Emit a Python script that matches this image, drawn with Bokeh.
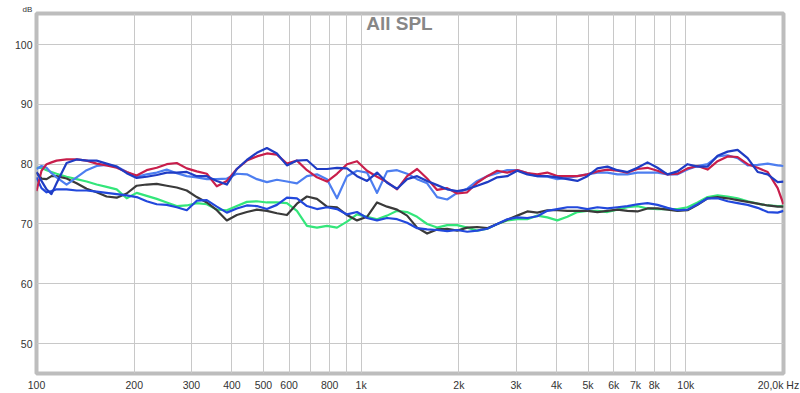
from bokeh.plotting import figure
from bokeh.models import FixedTicker, Range1d, Label, Title
from bokeh.embed import file_html
from bokeh.resources import INLINE

# frequency points (Hz)
freq = [100, 103.6, 107.4, 111.2, 115.3, 123.8, 132.9, 142.7, 153.2, 164.4,
        176.6, 189.6, 203.5, 218.5, 234.6, 251.9, 270.4, 290.3, 311.7, 334.6,
        359.3, 385.7, 414.1, 444.6, 477.3, 512.5, 550.2, 590.7, 634.2, 680.9,
        731, 784.8, 842.6, 904.6, 971.2, 1042.7, 1119.5, 1201.9, 1290.4, 1385.4,
        1487.4, 1596.9, 1714.5, 1840.7, 1976.2, 2121.7, 2277.9, 2445.6, 2625.7, 2819,
        3026.6, 3249.4, 3488.6, 3745.5, 4021.2, 4317.3, 4635.2, 4976.4, 5342.8, 5736.2,
        6158.6, 6612, 7098.8, 7621.5, 8182.6, 8785, 9431.9, 10126, 10872, 11672,
        12531, 13454, 14444, 15508, 16649, 17875, 19191, 20000]

red = [75.5, 78.9, 80.0, 80.3, 80.6, 80.8, 80.8, 80.6, 80.1, 79.8,
       79.4, 78.7, 78.1, 79.0, 79.4, 80.0, 80.2, 79.3, 78.8, 78.4,
       76.3, 77.2, 79.2, 80.6, 81.3, 81.8, 81.6, 80.1, 80.6, 79.0,
       77.8, 77.1, 78.4, 80.0, 80.5, 78.9, 77.9, 77.0, 75.8, 78.0,
       79.2, 77.6, 75.7, 76.0, 75.1, 75.3, 76.9, 78.0, 78.9, 78.6,
       79.0, 78.5, 78.3, 78.6, 78.0, 78.0, 78.0, 78.3, 78.8, 79.1,
       78.9, 78.6, 79.2, 79.4, 78.9, 78.3, 78.4, 79.3, 79.7, 79.1,
       80.5, 81.3, 81.2, 80.0, 79.4, 78.7, 76.0, 73.3]

navy = [78.7, 77.2, 75.8, 75.0, 76.8, 80.2, 80.8, 80.6, 80.6, 80.1,
        79.6, 78.5, 77.7, 77.9, 78.2, 78.6, 78.6, 78.7, 78.0, 78.0,
        77.2, 76.6, 79.2, 80.7, 81.9, 82.7, 81.8, 79.8, 80.6, 80.7,
        79.2, 79.2, 79.4, 79.3, 78.0, 77.2, 78.6, 76.9, 75.9, 77.5,
        78.0, 77.2, 76.5, 75.8, 75.5, 75.8, 76.4, 77.0, 77.8, 78.0,
        78.9, 78.3, 78.0, 78.0, 77.8, 77.5, 77.2, 78.0, 79.3, 79.6,
        79.0, 78.7, 79.4, 80.3, 79.4, 78.3, 78.8, 80.0, 79.6, 79.6,
        81.4, 82.1, 82.4, 81.0, 78.7, 78.3, 77.0, 77.1]

light_blue = [79.2, 79.7, 79.4, 78.5, 77.8, 76.6, 77.8, 79.0, 79.7, 79.9,
              79.6, 78.7, 77.9, 78.3, 78.6, 79.1, 78.5, 78.0, 77.8, 77.5,
              77.5, 77.6, 78.4, 78.3, 77.5, 77.0, 77.4, 77.1, 76.8, 78.0,
              78.3, 77.5, 74.3, 78.0, 78.9, 78.6, 75.2, 78.8, 79.0, 78.4,
              77.5, 76.8, 74.5, 74.1, 75.2, 75.9, 77.2, 78.0, 78.5, 79.0,
              79.0, 78.5, 78.0, 77.9, 77.5, 77.7, 78.0, 78.3, 78.6, 78.6,
              78.3, 78.3, 78.6, 78.6, 78.6, 78.3, 78.3, 79.1, 79.7, 80.0,
              81.3, 81.5, 81.0, 79.8, 79.9, 80.1, 79.8, 79.7]

black = [78.6, 77.6, 77.5, 78.0, 78.0, 77.6, 76.8, 75.9, 75.3, 74.6,
         74.4, 75.1, 76.4, 76.6, 76.7, 76.4, 76.1, 75.6, 74.5, 73.6,
         72.3, 70.6, 71.5, 72.0, 72.4, 72.2, 71.8, 71.5, 73.4, 74.6,
         74.2, 72.9, 72.8, 71.5, 70.6, 71.2, 73.6, 72.9, 72.4, 71.4,
         69.4, 68.4, 69.1, 69.2, 68.9, 69.4, 69.5, 69.3, 70.0, 70.7,
         71.4, 72.1, 71.9, 72.3, 72.3, 72.2, 72.2, 72.2, 72.0, 72.2,
         72.4, 72.2, 72.1, 72.6, 72.6, 72.4, 72.2, 72.3, 73.2, 74.3,
         74.5, 74.3, 74.0, 73.7, 73.4, 73.1, 72.9, 72.9]

green = [79.4, 79.4, 79.0, 78.7, 78.4, 77.9, 77.5, 77.1, 76.6, 76.2,
         75.8, 74.3, 75.2, 74.7, 74.2, 73.6, 73.0, 73.1, 73.5, 73.3,
         72.4, 72.3, 73.0, 73.7, 73.8, 73.6, 73.6, 73.5, 72.2, 69.7,
         69.4, 69.7, 69.4, 70.4, 71.6, 71.2, 70.8, 71.4, 72.2, 72.0,
         71.2, 70.0, 69.4, 69.8, 69.8, 69.4, 68.9, 69.2, 70.0, 70.6,
         70.8, 70.8, 71.4, 71.1, 70.6, 71.2, 72.0, 72.2, 72.2, 72.0,
         72.4, 72.8, 73.0, 72.6, 72.5, 72.5, 72.5, 72.8, 73.6, 74.5,
         74.8, 74.6, 74.3, 73.8, 73.4, 73.1, 73.0, 73.0]

blue = [77.8, 76.0, 75.3, 75.5, 75.8, 75.8, 75.6, 75.6, 75.4, 75.2,
        75.0, 74.8, 74.5, 73.8, 73.3, 73.2, 72.8, 72.3, 73.9, 74.0,
        72.9, 71.9, 72.6, 73.1, 73.0, 72.5, 73.2, 74.4, 74.3, 73.0,
        72.5, 72.8, 72.5, 71.6, 72.0, 71.0, 70.6, 71.0, 70.8, 70.2,
        69.3, 69.1, 69.0, 68.8, 69.0, 68.7, 68.9, 69.2, 70.0, 70.8,
        71.1, 71.0, 71.3, 72.2, 72.5, 72.8, 72.8, 72.5, 72.8, 72.6,
        72.8, 73.0, 73.3, 73.5, 73.2, 72.7, 72.3, 72.4, 73.3, 74.3,
        74.3, 73.8, 73.5, 73.2, 72.7, 72.0, 71.9, 72.2]

# grid lines
grid_major = [100, 200, 300, 400, 500, 600, 800, 1000, 2000, 3000, 4000,
              5000, 6000, 7000, 8000, 10000, 20000]
grid_minor = [700, 900, 9000]
# labelled ticks (last label sits just left of the 20 kHz edge, with the unit)
x_ticks = [100, 200, 300, 400, 500, 600, 800, 1000, 2000, 3000, 4000,
           5000, 6000, 7000, 8000, 10000, 19300]
x_tick_labels = ["100", "200", "300", "400", "500", "600", "800", "1k", "2k", "3k", "4k",
                 "5k", "6k", "7k", "8k", "10k", "20,0k Hz"]
y_ticks = [50, 60, 70, 80, 90, 100]

FONT = "Liberation Sans"

p = figure(width=800, height=393, x_axis_type="log",
           x_range=Range1d(100, 20000), y_range=Range1d(45, 105.2),
           output_backend="svg", toolbar_location=None,
           min_border_left=36, min_border_right=17,
           min_border_top=13, min_border_bottom=19)
p.background_fill_color = "white"
p.border_fill_color = "white"
p.outline_line_color = "#bdbdbd"
p.outline_line_width = 4

p.xaxis.ticker = FixedTicker(ticks=x_ticks)
p.xaxis.major_label_overrides = {t: l for t, l in zip(x_ticks, x_tick_labels)}
p.yaxis.ticker = FixedTicker(ticks=y_ticks)
p.xgrid.ticker = FixedTicker(ticks=grid_major, minor_ticks=grid_minor)
for ax in (p.xaxis[0], p.yaxis[0]):
    ax.axis_line_color = None
    ax.major_tick_line_color = None
    ax.minor_tick_line_color = None
    ax.major_tick_out = 0
    ax.minor_tick_out = 0
    ax.major_label_text_font = FONT
    ax.major_label_text_font_size = "10.5px"
    ax.major_label_text_color = "#333333"
p.xaxis.major_label_standoff = 5
p.yaxis.major_label_standoff = 4

p.xgrid.grid_line_color = "#c8c8c8"
p.xgrid.minor_grid_line_color = "#c8c8c8"
p.ygrid.grid_line_color = "#c8c8c8"

series = [
    (green, "#33e67a"),
    (black, "#3a3a3a"),
    (blue, "#2248dc"),
    (light_blue, "#4d7ef0"),
    (red, "#c81e4b"),
    (navy, "#1f3cc4"),
]
for vals, col in series:
    p.line(freq, vals, line_color=col, line_width=2.2, line_join="round")

p.add_layout(Label(x=1312, y=105.2, y_offset=-10, text="All SPL",
                   text_align="center", text_baseline="middle",
                   text_font=FONT, text_font_size="19px", text_font_style="bold",
                   text_color="#878787"))
p.add_layout(Title(text="dB", align="left", offset=-14, standoff=0,
                   text_font=FONT, text_font_size="8px", text_font_style="normal",
                   text_color="#333333"), "above")

open("out.html", "w").write(file_html(p, INLINE))
